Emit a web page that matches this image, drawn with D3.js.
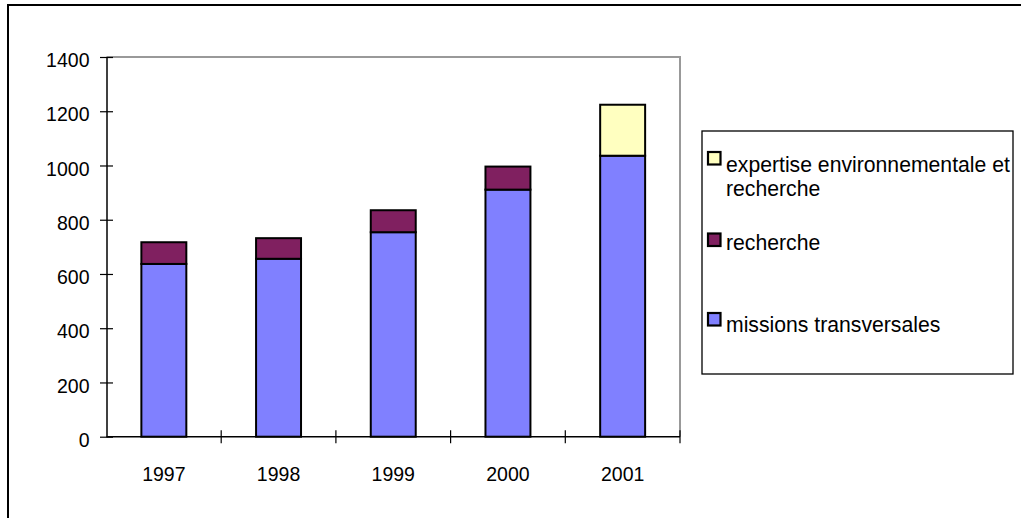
<!DOCTYPE html>
<html>
<head>
<meta charset="utf-8">
<script src="https://cdn.jsdelivr.net/npm/d3@7"></script>
<style>
  html, body { margin: 0; padding: 0; background: #fff; }
  svg { display: block; }
  text { font-family: "Liberation Sans", Arial, sans-serif; fill: #000; }
</style>
</head>
<body>
<svg id="chart" width="1021" height="518"></svg>
<script>
// ---- data ----
const years = ["1997", "1998", "1999", "2000", "2001"];
const missions = [637, 656, 754, 911, 1036];
const recherche = [80, 76, 81, 85, 0];
const expertise = [0, 0, 0, 0, 188];
const seriesNames = ["missions transversales", "recherche", "expertise environnementale et recherche"];
const seriesColors = ["#8080FF", "#802060", "#FFFFC0"];
const yTicks = [0, 200, 400, 600, 800, 1000, 1200, 1400];

const rows = years.map((y, i) => ({ year: y, s0: missions[i], s1: recherche[i], s2: expertise[i] }));
const stack = d3.stack().keys(["s0", "s1", "s2"]);
const stacked = stack(rows);

const svg = d3.select("#chart");

// outer chart border
svg.append("rect").attr("x", 8).attr("y", 5).attr("width", 1030).attr("height", 530)
  .attr("fill", "none").attr("stroke", "#000").attr("stroke-width", 2);

const plot = { left: 106.5, right: 680, top: 57, bottom: 436.7 };

const x = d3.scaleBand().domain(years).range([plot.left, plot.right]).paddingInner(0.608).paddingOuter(0.304);
const xBand = d3.scaleBand().domain(years).range([plot.left, plot.right]).padding(0);
const y = d3.scaleLinear().domain([0, 1400]).range([plot.bottom, plot.top]);

// plot area border (gray, top and right)
svg.append("path")
  .attr("d", `M${plot.left},${plot.top}H${plot.right}V${plot.bottom}`)
  .attr("fill", "none").attr("stroke", "#999").attr("stroke-width", 2);

// bars
const layers = svg.append("g").selectAll("g").data(stacked).join("g")
  .attr("fill", (d, i) => seriesColors[i]);
layers.selectAll("rect").data(d => d.filter(v => v[1] - v[0] > 0)).join("rect")
  .attr("x", d => x(d.data.year))
  .attr("width", x.bandwidth())
  .attr("y", d => y(d[1]))
  .attr("height", d => y(d[0]) - y(d[1]))
  .attr("stroke", "#000").attr("stroke-width", 2);

// y axis
const yAxis = d3.axisLeft(y).tickValues(yTicks).tickSize(0).tickPadding(17).tickFormat(d3.format("d"));
const gy = svg.append("g").attr("transform", `translate(${plot.left},0)`).call(yAxis);
gy.select(".domain").attr("stroke", "#000").attr("stroke-width", 1.5);
gy.selectAll(".tick text").attr("dy", "0.5em").style("font-size", "19.5px").style("font-family", "'Liberation Sans', Arial, sans-serif").attr("fill", "#000");
gy.selectAll(".tick").append("line").attr("x1", -6.5).attr("x2", 6.5).attr("stroke", "#000").attr("stroke-width", 1.2);

// x axis
const gx = svg.append("g").attr("transform", `translate(0,${plot.bottom})`);
gx.append("line").attr("x1", plot.left).attr("x2", plot.right).attr("stroke", "#000").attr("stroke-width", 1.5);
const boundaries = years.map(d => xBand(d)).concat([plot.right]).slice(1);
gx.selectAll("line.tk").data(boundaries).join("line").attr("class", "tk")
  .attr("x1", d => d).attr("x2", d => d).attr("y1", -6.5).attr("y2", 6.5)
  .attr("stroke", "#000").attr("stroke-width", 1.2);
gx.selectAll("text").data(years).join("text")
  .attr("x", d => x(d) + x.bandwidth() / 2).attr("y", 44.5)
  .attr("text-anchor", "middle").style("font-size", "19.5px").text(d => d);

// legend
const lg = { x: 702, y: 131, w: 311, h: 243 };
svg.append("clipPath").attr("id", "lgclip").append("rect")
  .attr("x", lg.x).attr("y", lg.y).attr("width", lg.w).attr("height", lg.h);
svg.append("rect").attr("x", lg.x).attr("y", lg.y).attr("width", lg.w).attr("height", lg.h)
  .attr("fill", "#fff").attr("stroke", "#000").attr("stroke-width", 1.3);
const legendItems = [
  { idx: 2, lines: ["expertise environnementale et", "recherche"], sw: 152, base: 171.5 },
  { idx: 1, lines: ["recherche"], sw: 233.5, base: 250 },
  { idx: 0, lines: ["missions transversales"], sw: 313, base: 331.5 }
];
const lgG = svg.append("g");
const lgText = svg.append("g").attr("clip-path", "url(#lgclip)");
legendItems.forEach(it => {
  lgG.append("rect").attr("x", 708).attr("y", it.sw).attr("width", 12.5).attr("height", 12.5)
    .attr("fill", seriesColors[it.idx]).attr("stroke", "#000").attr("stroke-width", 2.2);
  it.lines.forEach((ln, j) => {
    lgText.append("text").attr("x", 726).attr("y", it.base + j * 24.5)
      .style("font-size", "21.2px").text(ln);
  });
});
</script>
</body>
</html>
